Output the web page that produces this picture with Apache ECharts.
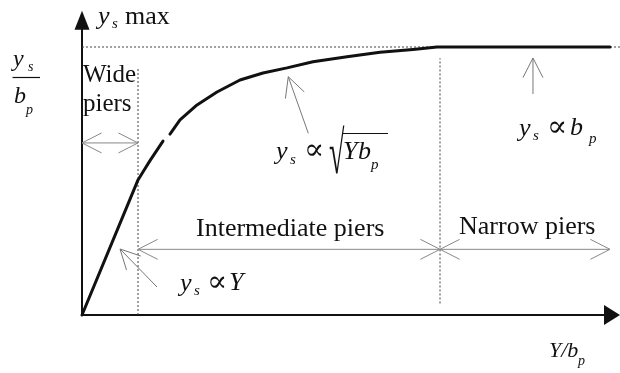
<!DOCTYPE html>
<html>
<head>
<meta charset="utf-8">
<script src="https://cdn.jsdelivr.net/npm/echarts@6/dist/echarts.min.js"></script>
<style>
  html, body { margin: 0; padding: 0; background: #fff; }
  #chart { width: 620px; height: 373px; }
</style>
</head>
<body>
<div id="chart"></div>
<script>
// Scour depth ratio ys/bp against flow depth ratio Y/bp (schematic).
// Regime limits on the Y/bp axis.
const wideLimit = 1.057;
const narrowLimit = 6.755;
const ysMax = 1.0;

// Scour curve: linear rise for wide piers, square-root growth, then flat at ys max.
const curveX = [0, 1.057, 1.170, 1.283, 1.528, 1.594, 1.660, 1.849, 2.170, 2.547, 2.981, 3.415, 3.868, 4.358, 5.000, 5.623, 6.245, 6.698, 9.962];
const curveY = [0, 0.504, 0.540, 0.576, 0.649, null, 0.675, 0.728, 0.784, 0.832, 0.877, 0.903, 0.922, 0.945, 0.964, 0.980, 0.991, 1.0, 1.0];

// Dotted guide lines [x1, y1, x2, y2]
const guideLines = [
  [0, ysMax, 10.15, ysMax],
  [wideLimit, 0, wideLimit, 0.922],
  [narrowLimit, 0.043, narrowLimit, 0.958]
];

// Range arrows for the three pier classes [xFrom, xTo, y]
const rangeArrows = [
  [0, wideLimit, 0.642],
  [wideLimit, narrowLimit, 0.245],
  [narrowLimit, 9.962, 0.245]
];

// Pointer arrows from a formula to the curve [tailX, tailY, tipX, tipY]
const pointerArrows = [
  [1.415, 0.1045, 0.717, 0.2463],
  [4.270, 0.678, 3.892, 0.889],
  [8.509, 0.8246, 8.509, 0.959]
];

const curveData = curveX.map((x, i) => curveY[i] === null ? [x, '-'] : [x, curveY[i]]);

const SERIF = '"Liberation Serif", "Times New Roman", "DejaVu Serif", serif';
const INK = '#111';

// Open V arrow head with its point at `tip`, opening back towards `from`.
function headPoints(tip, from, len, ang) {
  const dx = from[0] - tip[0], dy = from[1] - tip[1];
  const d = Math.hypot(dx, dy) || 1;
  const ux = dx / d, uy = dy / d;
  const c = Math.cos(ang), s = Math.sin(ang);
  const a1 = [tip[0] + len * (ux * c - uy * s), tip[1] + len * (ux * s + uy * c)];
  const a2 = [tip[0] + len * (ux * c + uy * s), tip[1] + len * (-ux * s + uy * c)];
  return [a1, tip, a2];
}
const HEAD_LEN = 22, HEAD_ANG = 27 * Math.PI / 180;

function guideRender(params, api) {
  const p1 = api.coord([api.value(0), api.value(1)]);
  const p2 = api.coord([api.value(2), api.value(3)]);
  return {
    type: 'line',
    shape: { x1: p1[0], y1: p1[1], x2: p2[0], y2: p2[1] },
    style: { stroke: '#444', lineWidth: 1, lineDash: [2, 2] }
  };
}

function rangeRender(params, api) {
  const y = api.value(2);
  const a = api.coord([api.value(0), y]);
  const b = api.coord([api.value(1), y]);
  const st = { stroke: '#888', lineWidth: 1, fill: null };
  return {
    type: 'group',
    children: [
      { type: 'line', shape: { x1: a[0], y1: a[1], x2: b[0], y2: b[1] }, style: st },
      { type: 'polyline', shape: { points: headPoints(a, b, HEAD_LEN, HEAD_ANG) }, style: st },
      { type: 'polyline', shape: { points: headPoints(b, a, HEAD_LEN, HEAD_ANG) }, style: st }
    ]
  };
}

function pointerRender(params, api) {
  const tail = api.coord([api.value(0), api.value(1)]);
  const tip = api.coord([api.value(2), api.value(3)]);
  const st = { stroke: '#777', lineWidth: 1, fill: null };
  return {
    type: 'group',
    children: [
      { type: 'line', shape: { x1: tail[0], y1: tail[1], x2: tip[0], y2: tip[1] }, style: st },
      { type: 'polyline', shape: { points: headPoints(tip, tail, HEAD_LEN, HEAD_ANG) }, style: st }
    ]
  };
}

// One run of text placed by its left edge and baseline.
function txt(x, base, text, size, italic, extra) {
  return Object.assign({
    type: 'text', x: x, y: base - 0.3 * size, silent: true,
    style: {
      text: text, fill: INK, fontSize: size, fontFamily: SERIF,
      fontStyle: italic ? 'italic' : 'normal',
      align: 'left', verticalAlign: 'middle'
    }
  }, extra || {});
}
function rule(x1, y1, x2, y2, w) {
  return { type: 'line', silent: true, shape: { x1, y1, x2, y2 }, style: { stroke: INK, lineWidth: w } };
}

const PROP = 30; // size of the proportionality sign

const labels = [
  // y-axis title: ys max
  txt(98, 25, 'y', 26, true), txt(112, 29, 's', 15, true), txt(125, 25, 'max', 26, false),
  // ys / bp fraction
  txt(13, 67, 'y', 24, true), txt(28, 72, 's', 14, true),
  rule(12.5, 77.5, 40, 77.5, 1.2),
  txt(14, 104, 'b', 24, true), txt(26, 115, 'p', 14, true),
  // pier classes
  txt(83, 83, 'Wide', 25, false), txt(83, 112, 'piers', 25, false),
  txt(196, 237, 'Intermediate piers', 26, false),
  txt(459, 235, 'Narrow piers', 26, false),
  // ys ∝ Y
  txt(180, 292, 'y', 26, true), txt(194, 296, 's', 15, true),
  txt(207, 292, '\u221D', PROP, false), txt(229, 291, 'Y', 26, true),
  // ys ∝ sqrt(Y bp)
  txt(276, 160, 'y', 26, true), txt(290, 165, 's', 15, true),
  txt(304, 160, '\u221D', PROP, false),
  { type: 'text', x: 329, y: 157, scaleX: 0.7, scaleY: 1.5, silent: true,
    style: { text: '\u221A', fill: INK, fontSize: 40, fontFamily: SERIF, align: 'left', verticalAlign: 'middle' } },
  rule(342, 133.5, 388, 133.5, 1.2),
  txt(343, 160, 'Y', 26, true), txt(358, 160, 'b', 26, true), txt(371, 170, 'p', 15, true),
  // ys ∝ bp
  txt(519, 137, 'y', 26, true), txt(533, 141, 's', 15, true),
  txt(547, 137, '\u221D', PROP, false), txt(570, 136, 'b', 26, true), txt(589, 144, 'p', 15, true),
  // x-axis title: Y/bp
  txt(549, 358, 'Y/b', 22, true), txt(578, 366, 'p', 14, true)
];

const chart = echarts.init(document.getElementById('chart'), null, { renderer: 'canvas' });
chart.setOption({
  animation: false,
  backgroundColor: '#fff',
  grid: { left: 82, top: 20.2, width: 530, height: 294.8 },
  xAxis: {
    type: 'value', min: 0, max: 10,
    axisLine: { show: true, onZero: false, symbol: ['none', 'triangle'], symbolSize: [20, 16],
      lineStyle: { color: INK, width: 2 } },
    axisTick: { show: false }, axisLabel: { show: false }, splitLine: { show: false }
  },
  yAxis: {
    type: 'value', min: 0, max: 1.1,
    axisLine: { show: true, onZero: false, symbol: ['none', 'triangle'], symbolSize: [15, 19],
      lineStyle: { color: INK, width: 2 } },
    axisTick: { show: false }, axisLabel: { show: false }, splitLine: { show: false }
  },
  series: [
    { type: 'custom', renderItem: guideRender, data: guideLines, clip: false, silent: true, z: 1 },
    { type: 'custom', renderItem: rangeRender, data: rangeArrows, clip: false, silent: true, z: 1 },
    { type: 'custom', renderItem: pointerRender, data: pointerArrows, clip: false, silent: true, z: 1 },
    {
      type: 'line', data: curveData, showSymbol: false, smooth: false,
      connectNulls: false, lineStyle: { color: INK, width: 3, join: 'round', cap: 'round' },
      clip: false, silent: true, z: 3
    }
  ],
  graphic: labels
});
</script>
</body>
</html>
